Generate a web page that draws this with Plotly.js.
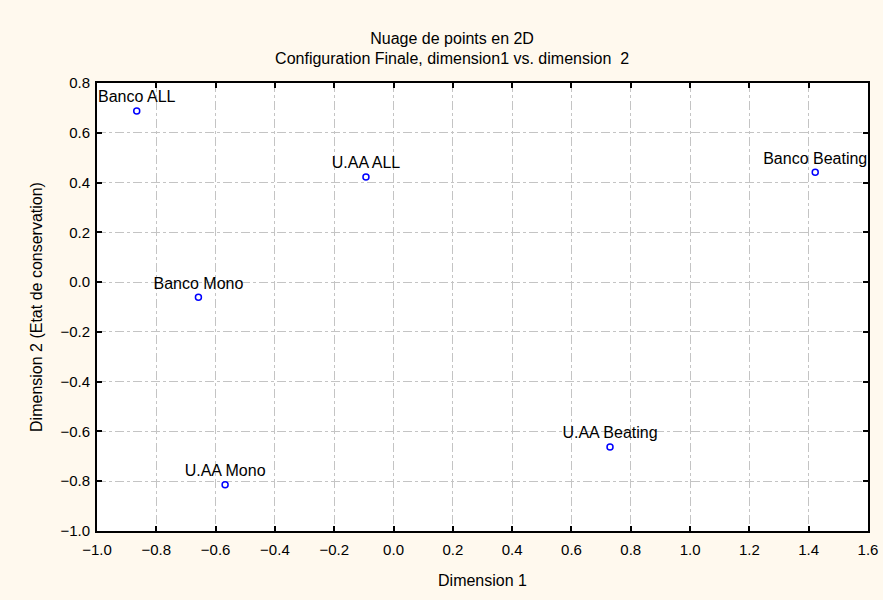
<!DOCTYPE html>
<html>
<head>
<meta charset="utf-8">
<script src="https://cdn.plot.ly/plotly-3.0.1.min.js"></script>
<style>html,body{margin:0;padding:0;background:#FFF9EE;}</style>
</head>
<body>
<div id="chart" style="width:883px;height:600px;"></div>
<script>
const labels = ["Banco ALL", "U.AA ALL", "Banco Beating", "Banco Mono", "U.AA Beating", "U.AA Mono"];
const dim1 = [-0.866, -0.093, 1.422, -0.658, 0.730, -0.568];
const dim2 = [0.688, 0.422, 0.441, -0.061, -0.663, -0.814];
const xTicks = [-1.0, -0.8, -0.6, -0.4, -0.2, 0.0, 0.2, 0.4, 0.6, 0.8, 1.0, 1.2, 1.4, 1.6];
const yTicks = [-1.0, -0.8, -0.6, -0.4, -0.2, 0.0, 0.2, 0.4, 0.6, 0.8];

const font = "Liberation Sans, Arial, sans-serif";
const trace = {
  x: dim1, y: dim2, text: labels,
  mode: "markers+text", type: "scatter",
  textposition: "top center",
  textfont: {family: font, size: 16, color: "#000"},
  marker: {symbol: "circle-open", size: 6, color: "#0000FF", line: {width: 1.5, color: "#0000FF"}},
  cliponaxis: true,
  hoverinfo: "none"
};
const axisCommon = {
  showline: true, linecolor: "#000", linewidth: 2, mirror: "ticks",
  ticks: "inside", ticklen: 5, tickcolor: "#000", tickwidth: 2,
  showgrid: true, gridcolor: "#C4C4C4", griddash: "dashdot", gridwidth: 1,
  zeroline: false, tickfont: {family: font, size: 15, color: "#000"},
  tickformat: ".1f"
};
const layout = {
  width: 883, height: 600,
  paper_bgcolor: "#FFF9EE", plot_bgcolor: "#FFFFFF",
  margin: {l: 97, r: 15, t: 83, b: 69},
  showlegend: false,
  title: {text: "Nuage de points en 2D<br>Configuration Finale, dimension1 vs. dimension  2",
          font: {family: font, size: 16, color: "#000"}, x: 0.512, xanchor: "center", y: 0.9275, yanchor: "middle"},
  xaxis: Object.assign({}, axisCommon, {range: [-1.0, 1.6], tickvals: xTicks, ticklabelstandoff: 4,
    title: {text: "Dimension 1", font: {family: font, size: 16, color: "#000"}, standoff: 18}}),
  yaxis: Object.assign({}, axisCommon, {range: [-1.0, 0.8], tickvals: yTicks, ticklabelstandoff: 2,
    title: {text: "Dimension 2 (Etat de conservation)", font: {family: font, size: 16, color: "#000"}, standoff: 14}})
};
Plotly.newPlot("chart", [trace], layout, {displayModeBar: false, staticPlot: true});
</script>
</body>
</html>
